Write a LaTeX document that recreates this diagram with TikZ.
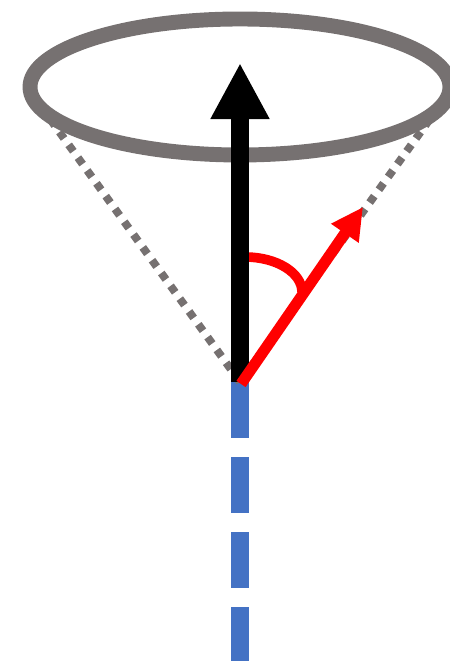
\documentclass[tikz,border=0pt]{standalone}
\usepackage{xcolor}
\usepackage{tikz}
\usetikzlibrary{arrows.meta,calc}
\definecolor{ringgray}{RGB}{118,113,113}
\definecolor{axisblue}{RGB}{68,114,196}
\tikzset{
  ring/.style={draw=ringgray,line width=8.5pt},
  cone/.style={draw=ringgray,line width=4.5pt,dash pattern=on 4.5pt off 4.5pt},
  axis/.style={draw=axisblue,line width=10.5pt,dash pattern=on 31.9pt off 10.8pt},
  spin/.style={-{Triangle[length=31.9pt,width=31.3pt]},line width=10.8pt,black},
  moment/.style={-{Triangle[length=18.2pt,width=17.8pt]},line width=6.3pt,red},
  anglearc/.style={draw=red,line width=5.5pt},
}

\begin{document}
\begin{tikzpicture}[x=0.02cm,y=0.02cm]
\useasboundingbox (0,0) rectangle (449,661);
\coordinate (O) at (240,279);
\coordinate (C) at (240,574);
\coordinate (top) at (240,598);
\coordinate (bot) at (240,0);
\coordinate (L) at ($(C)+(202:210 and 68)$);
\coordinate (R) at ($(C)+(338:210 and 68)$);
\coordinate (redstart) at (241,277);
\coordinate (redtip) at (363,454);
% precession axis
\draw[axis] (O) -- (bot);
% cone
\draw[cone] (O) -- (L);
\draw[cone] (O) -- (R);
\draw[ring] (C) ellipse [x radius=210,y radius=68];
% angle
\draw[anglearc] (245,404) arc [start angle=90,end angle=0,x radius=57,y radius=35];
\draw[spin] (O) -- (top);
\draw[moment] (redstart) -- (redtip);
\end{tikzpicture}
\end{document}
